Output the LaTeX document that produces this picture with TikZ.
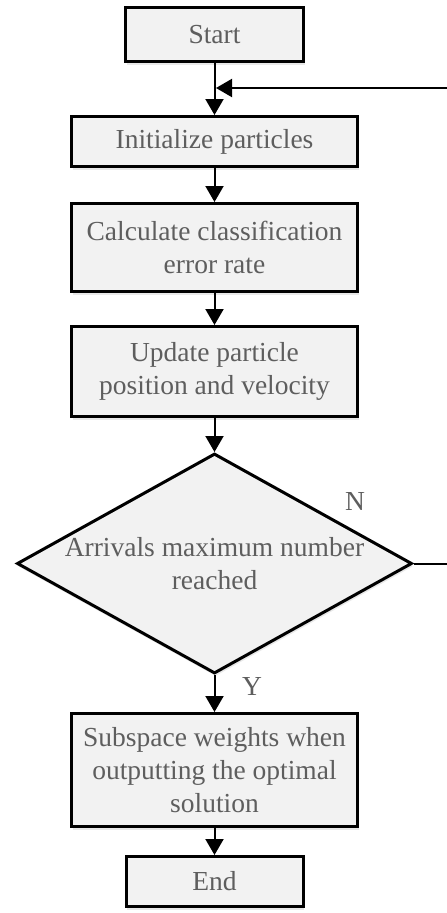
\documentclass[tikz,border=0pt]{standalone}
\usepackage{fontspec}
\setmainfont{Liberation Serif}
\usetikzlibrary{arrows.meta,positioning,shapes.geometric,shadows}
\definecolor{cink}{HTML}{5E5E5E}
\definecolor{cfill}{HTML}{F2F2F2}

\begin{document}
\begin{tikzpicture}[
  x=1pt, y=-1pt,
  font=\fontsize{27.5}{33}\selectfont,
  shade/.style={drop shadow={shadow xshift=1pt, shadow yshift=-3pt, opacity=0.18}},
  box/.style={draw=black, line width=3pt, fill=cfill, text=cink, align=center, minimum width=286pt, inner sep=0pt, shade},
  decision/.style={diamond, draw=black, line width=3pt, fill=cfill, text=cink, align=center, inner xsep=-4pt, inner ysep=0pt, aspect=1.795, minimum width=395pt, minimum height=220pt, shade},
  arr/.style={-{Triangle[length=16pt,width=18pt]}, line width=2pt},
  tag/.style={text=cink, inner sep=0pt},
]
\useasboundingbox (0,0) rectangle (447,913);
\clip (0,0) rectangle (447,913);
\node[box, minimum width=178pt, minimum height=54pt] (start) at (214.5,34.5) {Start};
\node[box, minimum height=50pt, below=52pt of start] (init) {Initialize particles};
\node[box, minimum height=88pt, below=34pt of init] (calc) {Calculate classification\\ error rate};
\node[box, minimum height=90pt, below=32pt of calc] (update) {Update particle\\ position and velocity};
\node[decision, below=34pt of update] (dec) {Arrivals maximum number\\ reached};
\node[box, minimum height=113pt, below=37pt of dec] (subw) {Subspace weights when\\ outputting the optimal\\ solution};
\node[box, minimum width=177pt, minimum height=50pt, below=27pt of subw] (stop) {End};
\coordinate (loopin) at (216,88);
\node[tag] (nlab) at (355,501) {N};
\node[tag] (ylab) at (252,686) {Y};
\draw[arr] (start) -- (init);
\draw[arr] (init) -- (calc);
\draw[arr] (calc) -- (update);
\draw[arr] (update) -- (dec);
\draw[arr] (dec) -- (subw);
\draw[arr] (subw) -- (stop);
\draw[arr] (dec.east) -- ++(50,0) |- (loopin);
\end{tikzpicture}
\end{document}
